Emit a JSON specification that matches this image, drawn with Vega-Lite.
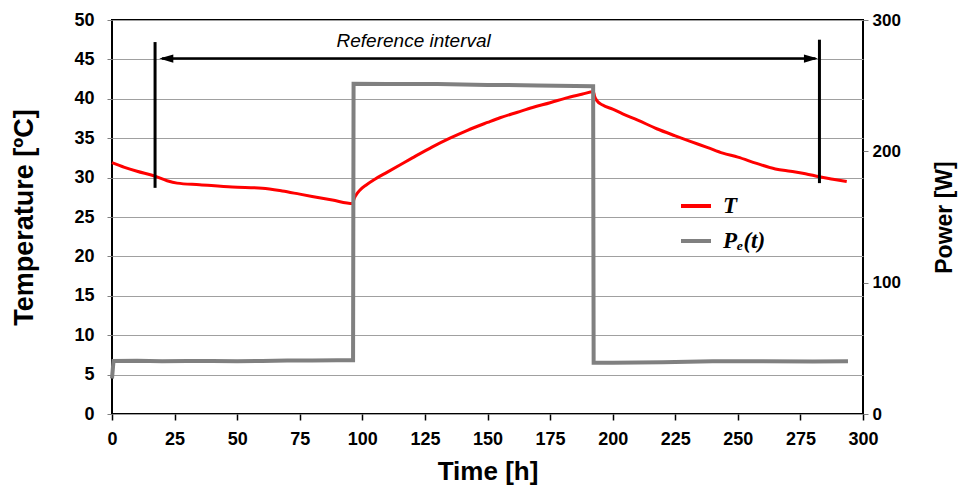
{
  "$schema": "https://vega.github.io/schema/vega-lite/v6.json",
  "width": 751,
  "height": 394,
  "autosize": {"type": "none"},
  "padding": {"left": 112, "top": 20, "right": 99, "bottom": 80},
  "background": "white",
  "config": {
    "font": "Liberation Sans",
    "view": {"stroke": "black", "strokeWidth": 2},
    "axis": {
      "labelFont": "Liberation Sans",
      "titleFont": "Liberation Sans",
      "labelFontWeight": "bold",
      "titleFontWeight": "bold",
      "labelColor": "black",
      "titleColor": "black",
      "domain": false,
      "labelFlush": false,
      "labelOverlap": false
    }
  },
  "datasets": {
    "temp": [
      {"t": 0, "T": 31.9}, {"t": 5, "T": 31.3}, {"t": 10, "T": 30.8}, {"t": 17, "T": 30.2},
      {"t": 22, "T": 29.6}, {"t": 26, "T": 29.3}, {"t": 35, "T": 29.1}, {"t": 48, "T": 28.8},
      {"t": 60, "T": 28.65}, {"t": 68, "T": 28.3}, {"t": 75, "T": 27.9}, {"t": 88, "T": 27.15},
      {"t": 96.2, "T": 26.7}, {"t": 96.6, "T": 27.2}, {"t": 97.5, "T": 27.8}, {"t": 99, "T": 28.4},
      {"t": 101.7, "T": 29.1}, {"t": 105, "T": 29.8}, {"t": 110, "T": 30.7}, {"t": 115, "T": 31.6},
      {"t": 120, "T": 32.5}, {"t": 128, "T": 33.9}, {"t": 135, "T": 35.0}, {"t": 142, "T": 36.0},
      {"t": 150, "T": 37.0}, {"t": 155, "T": 37.6}, {"t": 162, "T": 38.3}, {"t": 168, "T": 38.9},
      {"t": 175, "T": 39.5}, {"t": 182, "T": 40.15}, {"t": 188, "T": 40.6}, {"t": 192.3, "T": 40.9},
      {"t": 192.8, "T": 40.3}, {"t": 193.6, "T": 39.8}, {"t": 196, "T": 39.2}, {"t": 200, "T": 38.7},
      {"t": 204, "T": 38.1}, {"t": 210, "T": 37.3}, {"t": 217.6, "T": 36.2}, {"t": 225, "T": 35.3},
      {"t": 231, "T": 34.6}, {"t": 238, "T": 33.8}, {"t": 244, "T": 33.1}, {"t": 250, "T": 32.6},
      {"t": 257.5, "T": 31.8}, {"t": 265, "T": 31.1}, {"t": 271, "T": 30.8}, {"t": 277, "T": 30.5},
      {"t": 282.6, "T": 30.1}, {"t": 288, "T": 29.8}, {"t": 293.5, "T": 29.5}
    ],
    "power": [
      {"t": 0, "P": 27}, {"t": 0.6, "P": 40.3}, {"t": 10, "P": 40.5}, {"t": 20, "P": 40.2},
      {"t": 30, "P": 40.4}, {"t": 40, "P": 40.3}, {"t": 50, "P": 40.1}, {"t": 60, "P": 40.4},
      {"t": 70, "P": 40.7}, {"t": 80, "P": 40.8}, {"t": 90, "P": 40.9}, {"t": 96.3, "P": 40.9},
      {"t": 96.5, "P": 251.5}, {"t": 110, "P": 251.3}, {"t": 130, "P": 251.2}, {"t": 150, "P": 250.6},
      {"t": 170, "P": 250.2}, {"t": 185, "P": 249.8}, {"t": 192.2, "P": 249.6}, {"t": 192.4, "P": 39},
      {"t": 200, "P": 39.1}, {"t": 210, "P": 39.2}, {"t": 220, "P": 39.4}, {"t": 230, "P": 39.8},
      {"t": 240, "P": 40.2}, {"t": 260, "P": 40.2}, {"t": 280, "P": 40.0}, {"t": 294, "P": 40.1}
    ],
    "ref": [
      {"t": 17.2, "T": 28.7, "T2": 47.2},
      {"t": 282.6, "T": 29.3, "T2": 47.5}
    ],
    "arrow": [
      {"t": 20, "t2": 281, "T": 45.1}
    ],
    "heads": [
      {"t": 18.9, "T": 45.1, "dir": "L"},
      {"t": 282.0, "T": 45.1, "dir": "R"}
    ],
    "label": [
      {"t": 120.5, "T": 46.6, "text": "Reference interval"}
    ]
  },
  "layer": [
    {
      "encoding": {
        "x": {
          "field": "t", "type": "quantitative",
          "scale": {"domain": [0, 300], "nice": false},
          "axis": {
            "title": "Time [h]",
            "values": [0, 25, 50, 75, 100, 125, 150, 175, 200, 225, 250, 275, 300],
            "grid": false,
            "tickColor": "black", "tickSize": 6, "tickWidth": 1.5,
            "labelFontSize": 18, "labelPadding": 10,
            "titleFontSize": 26, "titlePadding": 10
          }
        },
        "y": {
          "field": "T", "type": "quantitative",
          "scale": {"domain": [0, 50], "nice": false},
          "axis": {
            "title": "Temperature [ºC]",
            "values": [0, 5, 10, 15, 20, 25, 30, 35, 40, 45, 50],
            "grid": true, "gridColor": "#a0a0a0", "gridWidth": 1, "gridOpacity": 1,
            "tickColor": "#808080", "tickSize": 5,
            "labelFontSize": 18, "labelPadding": 13,
            "titleFontSize": 27, "titlePadding": 35
          }
        }
      },
      "layer": [
        {
          "data": {"name": "temp"},
          "mark": {"type": "line", "strokeWidth": 3, "interpolate": "monotone"},
          "encoding": {
            "color": {
              "datum": "T",
              "scale": {"domain": ["T", "P"], "range": ["#ff0000", "#808080"]},
              "legend": {
                "title": null,
                "orient": "none",
                "legendX": 567,
                "legendY": 169,
                "padding": 0,
                "symbolType": "stroke",
                "symbolSize": 900,
                "symbolStrokeWidth": 4,
                "rowPadding": 6,
                "labelOffset": 10,
                "labelFont": "Liberation Serif",
                "labelFontStyle": "italic",
                "labelFontWeight": "bold",
                "labelFontSize": 23,
                "labelColor": "black",
                "labelExpr": "datum.value == 'T' ? 'T' : 'P\u2091(t)'"
              }
            }
          }
        },
        {
          "data": {"name": "ref"},
          "mark": {"type": "rule", "color": "black", "strokeWidth": 3},
          "encoding": {
            "y2": {"field": "T2"}
          }
        },
        {
          "data": {"name": "arrow"},
          "mark": {"type": "rule", "color": "black", "strokeWidth": 2.5},
          "encoding": {
            "x2": {"field": "t2"}
          }
        },
        {
          "data": {"name": "heads"},
          "mark": {"type": "point", "filled": true, "color": "black", "opacity": 1, "size": 196},
          "encoding": {
            "shape": {
              "field": "dir", "type": "nominal",
              "scale": {"domain": ["L", "R"], "range": ["M0,0L2,-0.6L2,0.6Z", "M0,0L-2,-0.6L-2,0.6Z"]},
              "legend": null
            }
          }
        },
        {
          "data": {"name": "label"},
          "mark": {"type": "text", "font": "Liberation Sans", "fontStyle": "italic", "fontSize": 19, "color": "black", "align": "center", "baseline": "alphabetic"},
          "encoding": {
            "text": {"field": "text"}
          }
        }
      ]
    },
    {
      "data": {"name": "power"},
      "mark": {"type": "line", "strokeWidth": 4},
      "encoding": {
        "x": {"field": "t", "type": "quantitative"},
        "y": {
          "field": "P", "type": "quantitative",
          "scale": {"domain": [0, 300], "nice": false},
          "axis": {
            "orient": "right",
            "title": "Power [W]",
            "values": [0, 100, 200, 300],
            "grid": false,
            "tickColor": "#808080", "tickSize": 5,
            "labelFontSize": 17, "labelPadding": 4,
            "titleFontSize": 23, "titlePadding": 33,
            "titleAngle": -90, "titleBaseline": "top"
          }
        },
        "color": {"datum": "P"}
      }
    }
  ],
  "resolve": {"scale": {"y": "independent"}}
}
